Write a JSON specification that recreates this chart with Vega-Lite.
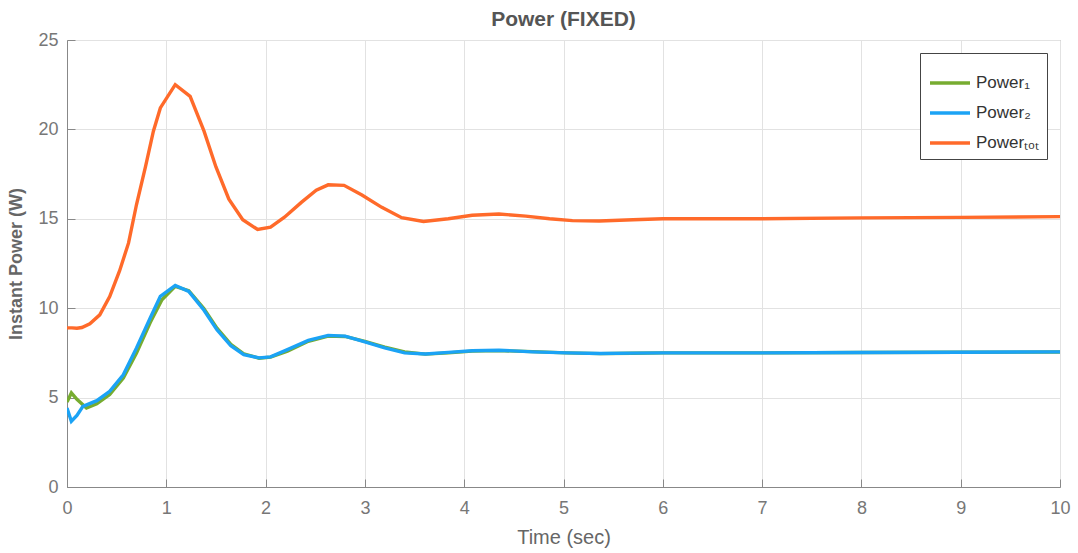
{
  "$schema": "https://vega.github.io/schema/vega-lite/v6.json",
  "autosize": {"type": "none"},
  "width": 993,
  "height": 447,
  "padding": {"left": 67, "top": 40, "right": 18, "bottom": 66},
  "background": "white",
  "title": {"text": "Power (FIXED)", "fontSize": 21, "fontWeight": "bold", "color": "#555555", "font": "Liberation Sans", "offset": 1},
  "config": {
    "view": {"stroke": "#999999", "strokeWidth": 1},
    "font": "Liberation Sans"
  },
  "data": {"values": [
    {"t": 0, "s": "Power1", "v": 4.75},
    {"t": 0.044, "s": "Power1", "v": 5.26},
    {"t": 0.1, "s": "Power1", "v": 4.9},
    {"t": 0.196, "s": "Power1", "v": 4.42},
    {"t": 0.3, "s": "Power1", "v": 4.65},
    {"t": 0.43, "s": "Power1", "v": 5.17},
    {"t": 0.567, "s": "Power1", "v": 6.1},
    {"t": 0.7, "s": "Power1", "v": 7.5},
    {"t": 0.838, "s": "Power1", "v": 9.2},
    {"t": 0.956, "s": "Power1", "v": 10.47},
    {"t": 1.09, "s": "Power1", "v": 11.22},
    {"t": 1.226, "s": "Power1", "v": 10.98},
    {"t": 1.378, "s": "Power1", "v": 9.98},
    {"t": 1.51, "s": "Power1", "v": 8.88},
    {"t": 1.65, "s": "Power1", "v": 7.98},
    {"t": 1.78, "s": "Power1", "v": 7.45},
    {"t": 1.935, "s": "Power1", "v": 7.2},
    {"t": 2.05, "s": "Power1", "v": 7.26},
    {"t": 2.22, "s": "Power1", "v": 7.6},
    {"t": 2.43, "s": "Power1", "v": 8.15},
    {"t": 2.63, "s": "Power1", "v": 8.44},
    {"t": 2.8, "s": "Power1", "v": 8.42},
    {"t": 3.0, "s": "Power1", "v": 8.15},
    {"t": 3.2, "s": "Power1", "v": 7.82},
    {"t": 3.4, "s": "Power1", "v": 7.55},
    {"t": 3.61, "s": "Power1", "v": 7.43},
    {"t": 3.84, "s": "Power1", "v": 7.5},
    {"t": 4.08, "s": "Power1", "v": 7.6},
    {"t": 4.35, "s": "Power1", "v": 7.63},
    {"t": 4.69, "s": "Power1", "v": 7.57},
    {"t": 5.03, "s": "Power1", "v": 7.5},
    {"t": 5.37, "s": "Power1", "v": 7.46},
    {"t": 5.7, "s": "Power1", "v": 7.48},
    {"t": 6.0, "s": "Power1", "v": 7.5},
    {"t": 7.0, "s": "Power1", "v": 7.5},
    {"t": 8.0, "s": "Power1", "v": 7.52},
    {"t": 9.0, "s": "Power1", "v": 7.54},
    {"t": 10.0, "s": "Power1", "v": 7.55},
    {"t": 0, "s": "Power2", "v": 4.42},
    {"t": 0.044, "s": "Power2", "v": 3.68},
    {"t": 0.1, "s": "Power2", "v": 4.0},
    {"t": 0.16, "s": "Power2", "v": 4.51},
    {"t": 0.3, "s": "Power2", "v": 4.83},
    {"t": 0.43, "s": "Power2", "v": 5.35},
    {"t": 0.567, "s": "Power2", "v": 6.28},
    {"t": 0.7, "s": "Power2", "v": 7.78},
    {"t": 0.838, "s": "Power2", "v": 9.45},
    {"t": 0.94, "s": "Power2", "v": 10.66},
    {"t": 1.09, "s": "Power2", "v": 11.27},
    {"t": 1.226, "s": "Power2", "v": 10.94},
    {"t": 1.378, "s": "Power2", "v": 9.9},
    {"t": 1.51, "s": "Power2", "v": 8.79},
    {"t": 1.65, "s": "Power2", "v": 7.9},
    {"t": 1.78, "s": "Power2", "v": 7.4},
    {"t": 1.935, "s": "Power2", "v": 7.22},
    {"t": 2.05, "s": "Power2", "v": 7.28},
    {"t": 2.22, "s": "Power2", "v": 7.68},
    {"t": 2.43, "s": "Power2", "v": 8.2},
    {"t": 2.63, "s": "Power2", "v": 8.48},
    {"t": 2.8, "s": "Power2", "v": 8.44},
    {"t": 3.0, "s": "Power2", "v": 8.12},
    {"t": 3.2, "s": "Power2", "v": 7.78},
    {"t": 3.4, "s": "Power2", "v": 7.5},
    {"t": 3.61, "s": "Power2", "v": 7.44},
    {"t": 3.84, "s": "Power2", "v": 7.53},
    {"t": 4.08, "s": "Power2", "v": 7.62},
    {"t": 4.35, "s": "Power2", "v": 7.65},
    {"t": 4.69, "s": "Power2", "v": 7.56},
    {"t": 5.03, "s": "Power2", "v": 7.5},
    {"t": 5.37, "s": "Power2", "v": 7.47},
    {"t": 5.7, "s": "Power2", "v": 7.49},
    {"t": 6.0, "s": "Power2", "v": 7.5},
    {"t": 7.0, "s": "Power2", "v": 7.5},
    {"t": 8.0, "s": "Power2", "v": 7.52},
    {"t": 9.0, "s": "Power2", "v": 7.54},
    {"t": 10.0, "s": "Power2", "v": 7.56},
    {"t": 0, "s": "Powertot", "v": 8.9},
    {"t": 0.05, "s": "Powertot", "v": 8.9},
    {"t": 0.1, "s": "Powertot", "v": 8.88},
    {"t": 0.15, "s": "Powertot", "v": 8.92},
    {"t": 0.23, "s": "Powertot", "v": 9.13},
    {"t": 0.33, "s": "Powertot", "v": 9.63},
    {"t": 0.43, "s": "Powertot", "v": 10.65},
    {"t": 0.53, "s": "Powertot", "v": 12.1},
    {"t": 0.62, "s": "Powertot", "v": 13.65},
    {"t": 0.7, "s": "Powertot", "v": 15.8},
    {"t": 0.79, "s": "Powertot", "v": 17.9},
    {"t": 0.87, "s": "Powertot", "v": 19.9},
    {"t": 0.94, "s": "Powertot", "v": 21.2},
    {"t": 1.09, "s": "Powertot", "v": 22.5},
    {"t": 1.24, "s": "Powertot", "v": 21.85},
    {"t": 1.38, "s": "Powertot", "v": 19.9},
    {"t": 1.5, "s": "Powertot", "v": 17.9},
    {"t": 1.63, "s": "Powertot", "v": 16.1},
    {"t": 1.77, "s": "Powertot", "v": 14.95},
    {"t": 1.92, "s": "Powertot", "v": 14.4},
    {"t": 2.05, "s": "Powertot", "v": 14.53},
    {"t": 2.19, "s": "Powertot", "v": 15.09},
    {"t": 2.36, "s": "Powertot", "v": 15.92},
    {"t": 2.51, "s": "Powertot", "v": 16.6},
    {"t": 2.63, "s": "Powertot", "v": 16.9},
    {"t": 2.79, "s": "Powertot", "v": 16.87},
    {"t": 2.97, "s": "Powertot", "v": 16.33},
    {"t": 3.17, "s": "Powertot", "v": 15.64},
    {"t": 3.37, "s": "Powertot", "v": 15.06},
    {"t": 3.59, "s": "Powertot", "v": 14.85},
    {"t": 3.84, "s": "Powertot", "v": 15.0},
    {"t": 4.08, "s": "Powertot", "v": 15.2},
    {"t": 4.35, "s": "Powertot", "v": 15.27},
    {"t": 4.62, "s": "Powertot", "v": 15.15},
    {"t": 4.86, "s": "Powertot", "v": 15.0},
    {"t": 5.09, "s": "Powertot", "v": 14.9},
    {"t": 5.36, "s": "Powertot", "v": 14.88},
    {"t": 5.7, "s": "Powertot", "v": 14.95},
    {"t": 6.0, "s": "Powertot", "v": 15.0},
    {"t": 7.0, "s": "Powertot", "v": 15.0},
    {"t": 8.0, "s": "Powertot", "v": 15.05},
    {"t": 9.0, "s": "Powertot", "v": 15.08},
    {"t": 10.0, "s": "Powertot", "v": 15.12}
  ]},
  "mark": {"type": "line", "strokeWidth": 3.4, "clip": true},
  "encoding": {
    "x": {
      "field": "t", "type": "quantitative",
      "scale": {"domain": [0, 10], "nice": false, "zero": false},
      "axis": {
        "title": "Time (sec)", "titleFontSize": 20, "titleFontWeight": "normal", "titleColor": "#666666", "titlePadding": 10,
        "values": [0, 1, 2, 3, 4, 5, 6, 7, 8, 9, 10], "format": "d",
        "labelFontSize": 18, "labelColor": "#777777", "labelPadding": 20, "labelFlush": false,
        "tickSize": -8, "tickColor": "#888888", "domainColor": "#888888",
        "grid": true, "gridColor": "#e2e2e2"
      }
    },
    "y": {
      "field": "v", "type": "quantitative",
      "scale": {"domain": [0, 25], "nice": false, "zero": true},
      "axis": {
        "title": "Instant Power (W)", "titleFontSize": 18, "titleFontWeight": "bold", "titleColor": "#666666", "titlePadding": 12,
        "values": [0, 5, 10, 15, 20, 25],
        "labelFontSize": 18, "labelColor": "#777777", "labelPadding": 17,
        "tickSize": -8, "tickColor": "#888888", "domainColor": "#888888",
        "grid": true, "gridColor": "#e2e2e2"
      }
    },
    "color": {
      "field": "s", "type": "nominal",
      "scale": {"domain": ["Power1", "Power2", "Powertot"], "range": ["#77AC30", "#1BA3F5", "#FF6A2A"]},
      "legend": {
        "title": null, "orient": "top-right", "offset": 13,
        "labelExpr": "datum.value == 'Power1' ? 'Power₁' : datum.value == 'Power2' ? 'Power₂' : 'Powerₜₒₜ'",
        "labelFontSize": 17, "labelColor": "#333333",
        "symbolType": "stroke", "symbolSize": 1600, "symbolStrokeWidth": 3.5,
        "rowPadding": -6, "padding": 8,
        "strokeColor": "#444444", "fillColor": "white"
      }
    }
  }
}
